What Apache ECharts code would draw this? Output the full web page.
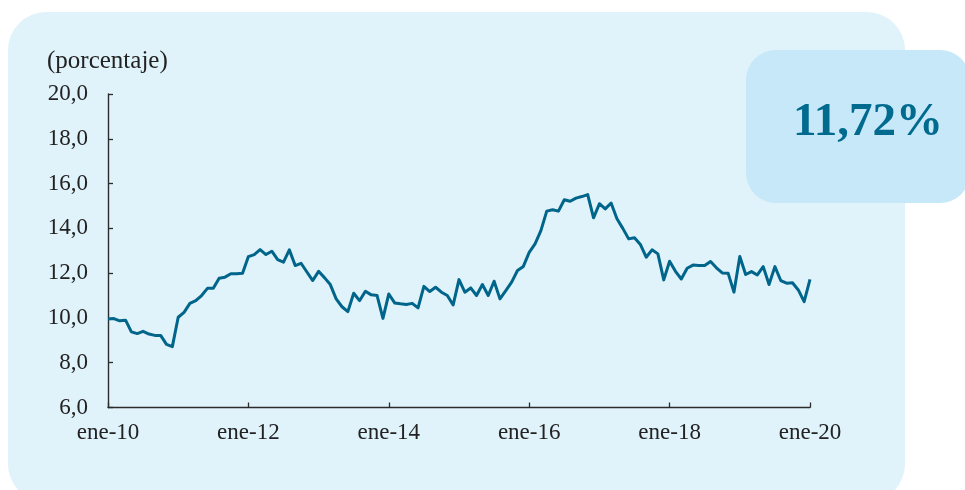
<!DOCTYPE html>
<html><head><meta charset="utf-8">
<script src="https://cdn.jsdelivr.net/npm/echarts@6/dist/echarts.min.js"></script>
<style>html,body{margin:0;padding:0;background:#fff}#c{width:965px;height:490px}</style>
</head><body><div id="c"></div>
<script>
const monthNames = ['ene','feb','mar','abr','may','jun','jul','ago','sep','oct','nov','dic'];
const years = ['10','11','12','13','14','15','16','17','18','19','20'];
const yTicks = [6, 8, 10, 12, 14, 16, 18, 20];

const v2010 = [9.95, 9.97, 9.87, 9.90, 9.38, 9.30, 9.40, 9.28, 9.22, 9.22, 8.82, 8.72];
const v2011 = [10.03, 10.25, 10.65, 10.77, 11.00, 11.32, 11.32, 11.77, 11.82, 11.97, 11.97, 12.00];
const v2012 = [12.74, 12.83, 13.05, 12.83, 12.98, 12.60, 12.49, 13.04, 12.34, 12.44, 12.05, 11.67];
const v2013 = [12.08, 11.80, 11.49, 10.85, 10.50, 10.28, 11.10, 10.77, 11.19, 11.03, 11.00, 9.98];
const v2014 = [11.07, 10.67, 10.63, 10.60, 10.65, 10.45, 11.41, 11.18, 11.37, 11.15, 11.00, 10.58];
const v2015 = [11.71, 11.15, 11.34, 11.00, 11.49, 11.00, 11.64, 10.85, 11.22, 11.60, 12.12, 12.30];
const v2016 = [12.93, 13.31, 13.90, 14.77, 14.83, 14.77, 15.28, 15.21, 15.35, 15.42, 15.51, 14.47];
const v2017 = [15.10, 14.87, 15.13, 14.43, 14.00, 13.53, 13.58, 13.28, 12.71, 13.04, 12.86, 11.70];
const v2018 = [12.53, 12.08, 11.74, 12.22, 12.36, 12.34, 12.34, 12.52, 12.24, 12.01, 12.00, 11.15];
const v2019 = [12.74, 11.94, 12.07, 11.92, 12.29, 11.49, 12.29, 11.67, 11.55, 11.57, 11.25, 10.73];
const v2020 = [11.72];

const values = [].concat(v2010, v2011, v2012, v2013, v2014, v2015, v2016, v2017, v2018, v2019, v2020);
const categories = [];
years.forEach(y => monthNames.forEach(m => { if (categories.length < values.length) categories.push(m + '-' + y); }));

const lastValue = values[values.length - 1];
const headline = lastValue.toFixed(2).replace('.', ',') + '%';

const FONT = '"Liberation Serif", "Times New Roman", serif';
const AXIS = '#2b2b2b';

const chart = echarts.init(document.getElementById('c'), null, {renderer: 'canvas'});
chart.setOption({
  backgroundColor: '#ffffff',
  animation: false,
  graphic: [
    {type: 'rect', z: -10, shape: {x: 8, y: 12, width: 897, height: 490, r: 38},
     style: {fill: '#E0F2FA'}},
    {type: 'rect', z: -9, shape: {x: 746, y: 50, width: 224, height: 153, r: 30},
     style: {fill: '#C6E8F8'}},
    {type: 'text', z: 10, x: 868, y: 123,
     style: {text: headline, fill: '#006A8F', font: 'bold 47px ' + FONT,
             textAlign: 'center', textVerticalAlign: 'middle'}},
    {type: 'text', z: 10, x: 47, y: 61,
     style: {text: '(porcentaje)', fill: '#222222', font: '25px ' + FONT,
             textAlign: 'left', textVerticalAlign: 'middle'}}
  ],
  grid: {left: 108, right: 155, top: 94, bottom: 82.5, containLabel: false},
  xAxis: {
    type: 'category',
    data: categories,
    boundaryGap: false,
    axisLine: {lineStyle: {color: AXIS, width: 1.4}},
    axisTick: {inside: true, length: 5, interval: 23, lineStyle: {color: AXIS, width: 1.3}},
    axisLabel: {interval: 23, margin: 14, color: '#222222', fontSize: 23, fontFamily: FONT},
    splitLine: {show: false}
  },
  yAxis: {
    type: 'value',
    min: yTicks[0], max: yTicks[yTicks.length - 1], interval: 2,
    axisLine: {show: true, lineStyle: {color: AXIS, width: 1.4}},
    axisTick: {show: true, inside: true, length: 5, lineStyle: {color: AXIS, width: 1.3}},
    axisLabel: {margin: 20, color: '#222222', fontSize: 23, fontFamily: FONT,
                formatter: v => v.toFixed(1).replace('.', ',')},
    splitLine: {show: false}
  },
  series: [{
    type: 'line',
    data: values,
    symbol: 'none',
    lineStyle: {color: '#00658A', width: 3, join: 'round'},
    z: 5
  }]
});
</script>
</body></html>
